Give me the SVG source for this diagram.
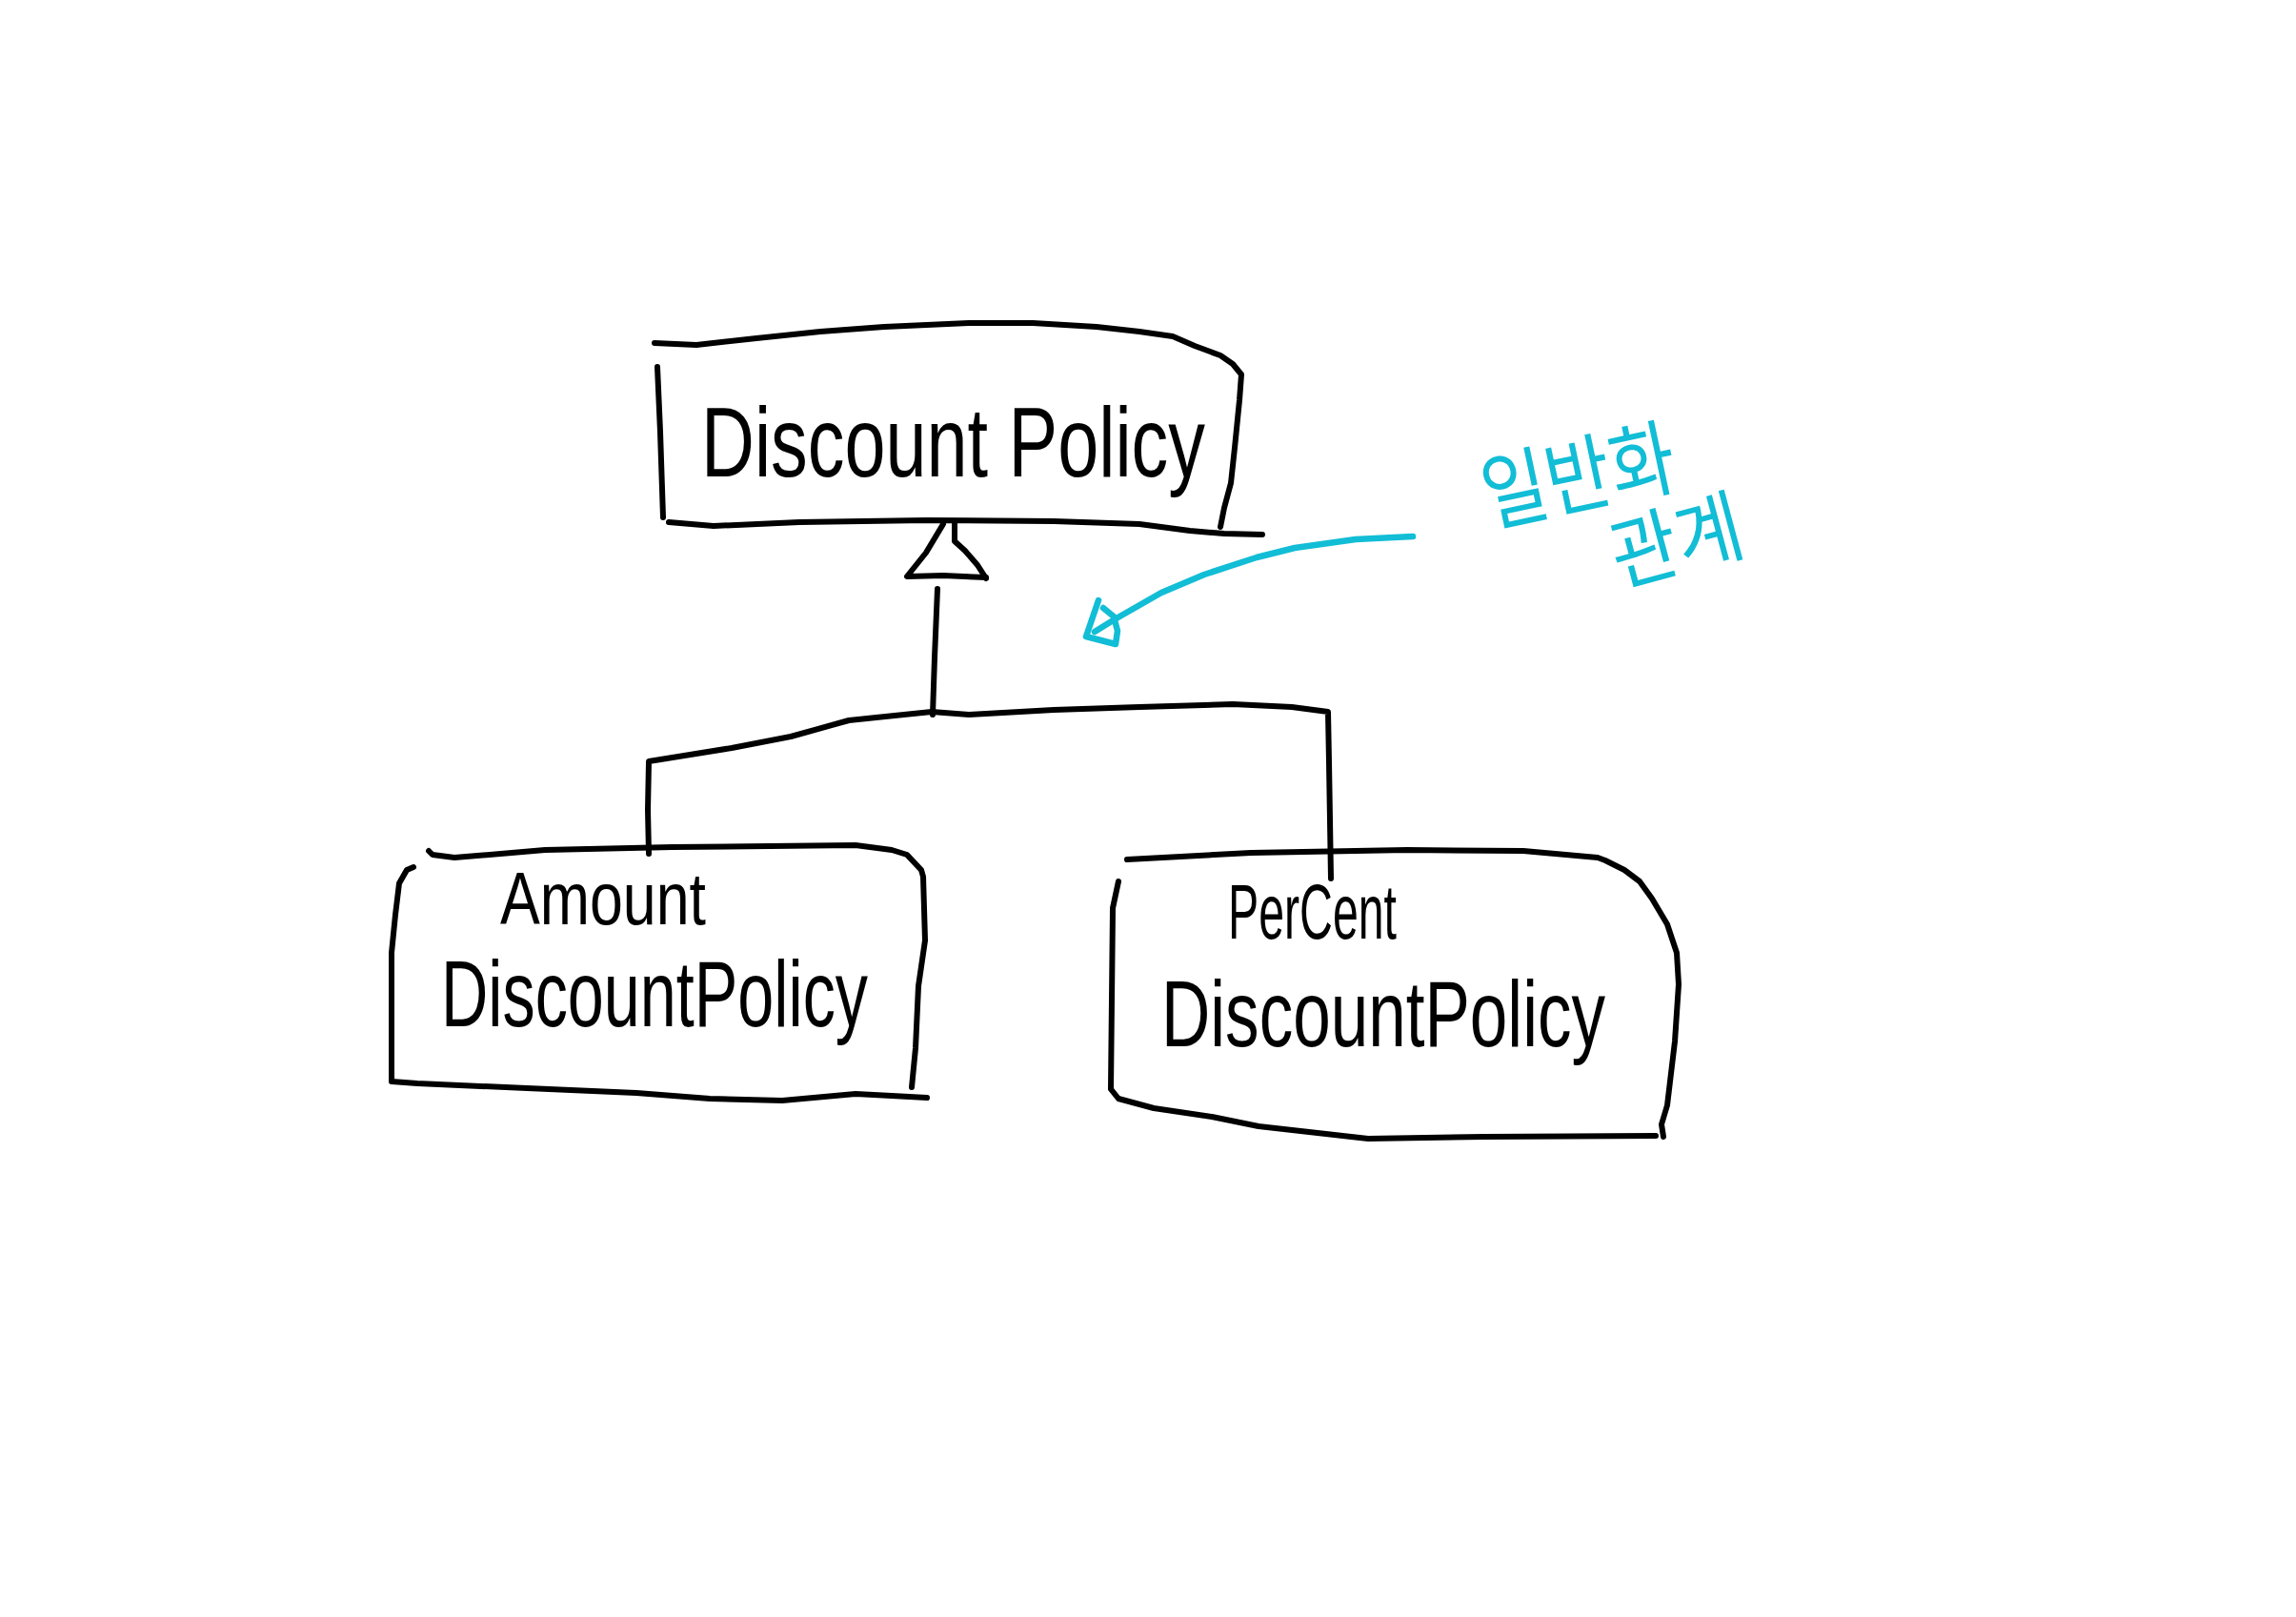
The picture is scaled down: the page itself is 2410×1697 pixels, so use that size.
<svg xmlns="http://www.w3.org/2000/svg" width="2410" height="1697" viewBox="0 0 2410 1697">
<style>
.ink{fill:none;stroke:#000;stroke-width:6;stroke-linecap:round;stroke-linejoin:round}
.cy{fill:none;stroke:#12BDD6;stroke-width:6.5;stroke-linecap:round;stroke-linejoin:round}
.hand{font-family:"Liberation Sans Narrow","Liberation Sans",sans-serif;fill:#000}
.kr{font-family:"Noto Sans CJK KR",sans-serif;fill:#12BDD6}
</style>
<rect width="2410" height="1697" fill="#fff"/>
<g id="node-discount-policy">
<path class="ink" d="M687,360 L731,362 L794,355 L861,348 L928,343 L1017,339 L1084,339 L1151,343 L1196,348 L1231,353 L1254,363 L1281,373 L1294,382 L1303,393 L1301,420 L1296,470 L1292,507 L1285,533 L1281,553"/>
<path class="ink" d="M690,385 L693,453 L696,543"/>
<path class="ink" d="M702,548 L749,552 L839,548 L972,546 L1106,547 L1196,550 L1249,557 L1285,560 L1325,561"/>
<text class="hand" x="736" y="500" font-size="104" textLength="529" lengthAdjust="spacingAndGlyphs">Discount Policy</text>
</g>
<g id="node-amount-discount-policy">
<path class="ink" d="M450,893 L454,897 L477,900 L572,892 L706,889 L898,887 L936,892 L952,897 L967,913 L969,920 L971,987 L964,1035 L961,1100 L957,1141"/>
<path class="ink" d="M434,910 L427,913 L419,927 L415,960 L411,1000 L411,1135 L438,1137 L553,1142 L668,1147 L745,1153 L821,1155 L898,1148 L936,1150 L973,1152"/>
<text class="hand" x="525" y="970" font-size="78" textLength="216" lengthAdjust="spacingAndGlyphs">Amount</text>
<text class="hand" x="463" y="1077" font-size="98" textLength="448" lengthAdjust="spacingAndGlyphs">DiscountPolicy</text>
</g>
<g id="node-percent-discount-policy">
<path class="ink" d="M1183,902 L1313,895 L1477,892 L1599,893 L1677,900 L1685,903 L1705,913 L1721,925 L1734,943 L1750,970 L1760,1000 L1762,1033 L1758,1093 L1750,1160 L1744,1180 L1746,1193"/>
<path class="ink" d="M1174,925 L1168,953 L1166,1143 L1174,1153 L1211,1163 L1272,1172 L1321,1182 L1436,1195 L1558,1193 L1738,1192"/>
<text class="hand" x="1289" y="985" font-size="82" textLength="177" lengthAdjust="spacingAndGlyphs">PerCent</text>
<text class="hand" x="1219" y="1098" font-size="99" textLength="466" lengthAdjust="spacingAndGlyphs">DiscountPolicy</text>
</g>
<g id="connectors">
<path class="ink" d="M990,550 L972,580 L952,605 L990,604 L1035,606"/>
<path class="ink" d="M1002,550 L1002,568 L1013,578 L1026,593 L1035,607"/>
<path class="ink" d="M984,618 L981,690 L979,750"/>
<path class="ink" d="M681,896 L680,850 L681,799 L768,785 L830,773 L891,756 L939,751 L978,747 L1017,750 L1106,745 L1196,742 L1294,739 L1356,742 L1394,747 L1395,800 L1397,922"/>
</g>
<g id="annotation">
<path class="cy" d="M1483,563 L1423,566 L1359,575 L1319,585 L1264,603 L1219,622 L1170,650 L1149,663"/>
<path class="cy" d="M1153,630 L1140,668 L1171,676 L1173,662 L1169,647 L1158,638"/>
<text class="kr" x="1563" y="552" font-size="88" textLength="205" lengthAdjust="spacingAndGlyphs" transform="rotate(-12 1563 552)">일반화</text>
<text class="kr" x="1700" y="615" font-size="84" textLength="140" lengthAdjust="spacingAndGlyphs" transform="rotate(-15 1700 615)">관계</text>
</g>
</svg>
